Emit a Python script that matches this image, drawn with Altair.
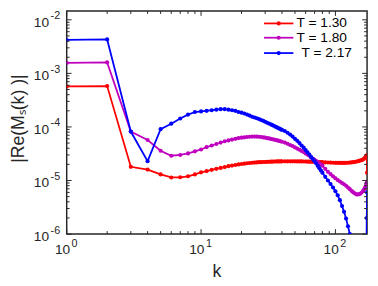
import altair as alt
import pandas as pd

# ---- data ----
k = [1, 2, 3, 4, 5, 6, 7, 8, 9, 10,
     11, 12, 13, 14, 15, 16, 17, 18, 19, 20,
     21, 22, 23, 24, 25, 26, 27, 28, 29, 30,
     31, 32, 33, 34, 35, 36, 37, 38, 39, 40,
     42, 44, 46, 48, 50, 52, 54, 56, 58, 60,
     62, 64, 66, 68, 70, 72, 74, 76, 78, 80,
     84, 88, 92, 96, 100, 104, 108, 112, 116, 120,
     124, 128, 132, 136, 140, 144, 148, 152, 156, 160,
     163, 166, 168, 170, 171, 172]

red = [5.7e-4, 5.8e-4, 1.8e-5, 1.6e-5, 1.3e-5, 1.14e-5, 1.15e-5, 1.2e-5, 1.3e-5, 1.42e-5,
       1.5e-5, 1.58e-5, 1.65e-5, 1.72e-5, 1.78e-5, 1.85e-5, 1.9e-5, 1.95e-5, 2.0e-5, 2.03e-5,
       2.06e-5, 2.1e-5, 2.12e-5, 2.15e-5, 2.16e-5, 2.18e-5, 2.2e-5, 2.2e-5, 2.22e-5, 2.22e-5,
       2.23e-5, 2.24e-5, 2.25e-5, 2.25e-5, 2.26e-5, 2.26e-5, 2.27e-5, 2.27e-5, 2.27e-5, 2.28e-5,
       2.28e-5, 2.28e-5, 2.28e-5, 2.28e-5, 2.28e-5, 2.27e-5, 2.27e-5, 2.27e-5, 2.26e-5, 2.26e-5,
       2.25e-5, 2.25e-5, 2.24e-5, 2.24e-5, 2.23e-5, 2.22e-5, 2.22e-5, 2.21e-5, 2.2e-5, 2.2e-5,
       2.18e-5, 2.17e-5, 2.16e-5, 2.15e-5, 2.14e-5, 2.14e-5, 2.13e-5, 2.13e-5, 2.13e-5, 2.14e-5,
       2.15e-5, 2.16e-5, 2.18e-5, 2.2e-5, 2.23e-5, 2.26e-5, 2.3e-5, 2.35e-5, 2.4e-5, 2.45e-5,
       2.55e-5, 2.65e-5, 2.75e-5, 2.85e-5, 2.95e-5, 1.4e-5]

magenta = [1.57e-3, 1.6e-3, 8.2e-5, 5.7e-5, 3.6e-5, 2.9e-5, 3.0e-5, 3.2e-5, 3.5e-5, 3.8e-5,
           4.2e-5, 4.5e-5, 4.8e-5, 5.1e-5, 5.4e-5, 5.6e-5, 5.8e-5, 6.0e-5, 6.2e-5, 6.3e-5,
           6.4e-5, 6.5e-5, 6.55e-5, 6.6e-5, 6.6e-5, 6.6e-5, 6.55e-5, 6.5e-5, 6.4e-5, 6.3e-5,
           6.2e-5, 6.1e-5, 6.0e-5, 5.9e-5, 5.8e-5, 5.7e-5, 5.6e-5, 5.5e-5, 5.4e-5, 5.3e-5,
           5.1e-5, 4.85e-5, 4.6e-5, 4.4e-5, 4.15e-5, 3.95e-5, 3.75e-5, 3.55e-5, 3.4e-5, 3.2e-5,
           3.05e-5, 2.9e-5, 2.7e-5, 2.55e-5, 2.42e-5, 2.3e-5, 2.2e-5, 2.1e-5, 2.0e-5, 1.9e-5,
           1.65e-5, 1.45e-5, 1.32e-5, 1.2e-5, 1.1e-5, 1.02e-5, 9.6e-6, 9.0e-6, 8.5e-6, 8.0e-6,
           7.4e-6, 6.9e-6, 6.4e-6, 6.0e-6, 5.7e-6, 5.5e-6, 5.5e-6, 5.6e-6, 5.9e-6, 6.3e-6,
           6.8e-6, 7.3e-6, 7.8e-6, 8.3e-6, 8.8e-6, 9.5e-6]

blue = [4.2e-3, 4.3e-3, 8.2e-5, 2.3e-5, 9.1e-5, 1.15e-4, 1.44e-4, 1.7e-4, 1.9e-4, 1.95e-4,
        2.0e-4, 2.05e-4, 2.1e-4, 2.15e-4, 2.15e-4, 2.1e-4, 2.05e-4, 2.0e-4, 1.9e-4, 1.85e-4,
        1.78e-4, 1.7e-4, 1.63e-4, 1.55e-4, 1.5e-4, 1.45e-4, 1.4e-4, 1.35e-4, 1.3e-4, 1.25e-4,
        1.2e-4, 1.16e-4, 1.12e-4, 1.08e-4, 1.04e-4, 1.0e-4, 9.7e-5, 9.4e-5, 9.1e-5, 8.8e-5,
        8.4e-5, 7.8e-5, 7.2e-5, 6.6e-5, 6.0e-5, 5.5e-5, 5.0e-5, 4.5e-5, 4.1e-5, 3.7e-5,
        3.35e-5, 3.05e-5, 2.75e-5, 2.5e-5, 2.28e-5, 2.07e-5, 1.87e-5, 1.7e-5, 1.54e-5, 1.4e-5,
        1.17e-5, 1.0e-5, 8.6e-6, 7.4e-6, 6.3e-6, 5.3e-6, 4.3e-6, 3.35e-6, 2.6e-6, 1.95e-6,
        1.4e-6, 1.0e-6, 7e-7, 4.8e-7, 3.2e-7, 2e-7, 1.2e-7, 7e-8, 4e-8, 2.5e-8,
        1.5e-8, 1e-8, 1e-8, 3e-7, 2e-6, 6e-6]

series_names = ["T = 1.30", "T = 1.80", "T = 2.17"]
series_colors = ["#ff0000", "#bf00bf", "#0000ff"]
series_values = [red, magenta, blue]

x_major = [1, 10, 100]
x_major_exp = ["0", "1", "2"]
x_minor = [2, 3, 4, 5, 6, 7, 8, 9, 20, 30, 40, 50, 60, 70, 80, 90]
y_major = [1e-6, 1e-5, 1e-4, 1e-3, 1e-2]
y_major_exp = ["-6", "-5", "-4", "-3", "-2"]
y_mant = [2, 3, 4, 5, 6, 7, 8, 9]
y_minor = [m * d for d in [1e-6, 1e-5, 1e-4, 1e-3] for m in y_mant]

for v in series_values:
    assert len(v) == len(k)

# ---- layout ----
W, H = 307, 228
FONT = "Liberation Sans"
AX = "#262626"
xs = alt.Scale(type="log", domain=[1, 172], nice=False)
ys = alt.Scale(type="log", domain=[1e-6, 0.0146], nice=False)

layers = []
for name, col, vals in zip(series_names, series_colors, series_values):
    d = pd.DataFrame({"k": k, "v": vals})
    base = alt.Chart(d).encode(
        x=alt.X("k:Q", scale=xs, axis=None),
        y=alt.Y("v:Q", scale=ys, axis=None),
    )
    layers.append(base.mark_line(color=col, strokeWidth=1.8, clip=True))
    layers.append(base.mark_circle(color=col, size=18, opacity=1, clip=True))

# ticks (inward, on all four sides)
def xticks(vals, L):
    d = pd.DataFrame({"t": vals})
    b = alt.Chart(d).mark_rule(color=AX, strokeWidth=1)
    return [
        b.encode(x=alt.X("t:Q", scale=xs, axis=None), y=alt.value(H), y2=alt.value(H - L)),
        b.encode(x=alt.X("t:Q", scale=xs, axis=None), y=alt.value(0), y2=alt.value(L)),
    ]

def yticks(vals, L):
    d = pd.DataFrame({"t": vals})
    b = alt.Chart(d).mark_rule(color=AX, strokeWidth=1)
    return [
        b.encode(y=alt.Y("t:Q", scale=ys, axis=None), x=alt.value(0), x2=alt.value(L)),
        b.encode(y=alt.Y("t:Q", scale=ys, axis=None), x=alt.value(W), x2=alt.value(W - L)),
    ]

layers += xticks(x_major, 5) + xticks(x_minor, 3) + yticks(y_major, 5) + yticks(y_minor, 3)

# tick labels 10^n
xl = pd.DataFrame({"t": x_major, "e": x_major_exp})
layers.append(alt.Chart(xl).mark_text(font=FONT, fontSize=14, align="right", baseline="middle",
                                      dx=3.5, color=AX).encode(
    x=alt.X("t:Q", scale=xs, axis=None), y=alt.value(H + 16.5), text=alt.value("10")))
layers.append(alt.Chart(xl).mark_text(font=FONT, fontSize=11, align="left", baseline="middle",
                                      dx=5, color=AX).encode(
    x=alt.X("t:Q", scale=xs, axis=None), y=alt.value(H + 10.5), text="e:N"))

yl = pd.DataFrame({"t": y_major, "e": y_major_exp})
layers.append(alt.Chart(yl).mark_text(font=FONT, fontSize=14, align="right", baseline="middle",
                                      dy=3, color=AX).encode(
    y=alt.Y("t:Q", scale=ys, axis=None), x=alt.value(-18), text=alt.value("10")))
layers.append(alt.Chart(yl).mark_text(font=FONT, fontSize=11, align="left", baseline="middle",
                                      dy=-3.5, color=AX).encode(
    y=alt.Y("t:Q", scale=ys, axis=None), x=alt.value(-16.5), text="e:N"))

# axis titles
layers.append(alt.Chart(pd.DataFrame({"a": [0]})).mark_text(
    font=FONT, fontSize=18, align="center", baseline="middle", color=AX).encode(
    x=alt.value(W / 2), y=alt.value(H + 38.5), text=alt.value("k")))
layers.append(alt.Chart(pd.DataFrame({"a": [0]})).mark_text(
    font=FONT, fontSize=18, align="center", baseline="middle", angle=270, color=AX).encode(
    x=alt.value(-49), y=alt.value(110), text=alt.value("|Re(M\u209b(k) )|")))

# legend
leg_y = [12.7, 27.3, 43.0]
leg_tx = [235, 235, 240]
for name, col, ly, tx in zip(series_names, series_colors, leg_y, leg_tx):
    one = alt.Chart(pd.DataFrame({"a": [0]}))
    layers.append(one.mark_rule(color=col, strokeWidth=1.8).encode(
        x=alt.value(201.7), x2=alt.value(231.7), y=alt.value(ly)))
    layers.append(one.mark_circle(color=col, size=18, opacity=1).encode(
        x=alt.value(216.7), y=alt.value(ly)))
    layers.append(one.mark_text(font=FONT, fontSize=14, align="left", baseline="middle",
                                color="#000000").encode(
        x=alt.value(tx), y=alt.value(ly), text=alt.value(name)))

chart = alt.layer(*layers).properties(
    width=W, height=H,
    autosize=alt.AutoSizeParams(type="none"),
    padding={"left": 60, "top": 0, "right": 3, "bottom": 50},
).configure_view(stroke=AX, strokeWidth=1.5)

chart.save("out.html", embed_options={"renderer": "svg", "actions": False})
